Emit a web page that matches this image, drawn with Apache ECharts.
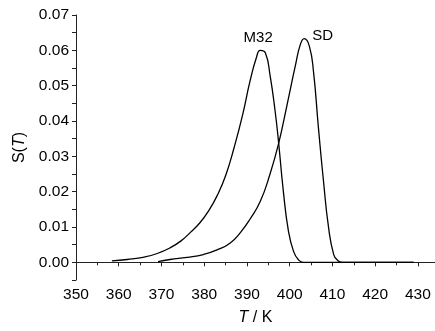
<!DOCTYPE html>
<html>
<head>
<meta charset="utf-8">
<script src="https://cdn.jsdelivr.net/npm/echarts@6/dist/echarts.min.js"></script>
<style>html,body{margin:0;padding:0;background:#fff}#c{width:435px;height:331px}</style>
</head>
<body>
<div id="c"></div>
<script>
const xTicks = [350, 360, 370, 380, 390, 400, 410, 420, 430];
const yTicks = ['0.00','0.01','0.02','0.03','0.04','0.05','0.06','0.07'];

const m32T = [358.4, 362, 366, 369, 372, 374.5, 376.7, 379, 381, 383, 385, 387, 389, 390.7, 392.2, 393.1, 394.3, 395.4, 396.6, 397.4, 398.5, 399.7, 400.9, 402, 403.2, 429];
const m32S = [0.0004, 0.0008, 0.0015, 0.0025, 0.0041, 0.0060, 0.0084, 0.0112, 0.0145, 0.0188, 0.0245, 0.0325, 0.0418, 0.0512, 0.0579, 0.0600, 0.0593, 0.0530, 0.0427, 0.0340, 0.0203, 0.0089, 0.0031, 0.0008, 0.0000, 0.0000];

const sdT = [369.2, 372, 376, 379.8, 383, 386.1, 388.5, 390.7, 393.1, 395.4, 397.4, 399.3, 401.3, 402.5, 403.4, 404.6, 405.6, 406.7, 407.9, 409.1, 410.3, 411.2, 412.2, 429];
const sdS = [0.0002, 0.0008, 0.0014, 0.0022, 0.0035, 0.0055, 0.0085, 0.0122, 0.0172, 0.0250, 0.0336, 0.0441, 0.0555, 0.0617, 0.0633, 0.0612, 0.0536, 0.0384, 0.0231, 0.0098, 0.0022, 0.0006, 0.0000, 0.0000];

const m32Label = 'M32', sdLabel = 'SD';
const m32Peak = [393.1, 0.0600], sdPeak = [403.4, 0.0633];

function zip(a, b) { return a.map((v, i) => [v, b[i]]); }

const chart = echarts.init(document.getElementById('c'), null, {renderer: 'canvas'});
const font = 'Liberation Sans, Arial, sans-serif';
const axisColor = '#222';
chart.setOption({
  animation: false,
  backgroundColor: '#fff',
  grid: {left: 76, right: 0, top: 15, bottom: 47, containLabel: false},
  xAxis: {
    type: 'value', min: 350, max: 434, interval: 10,
    name: '{i|T} / K', nameLocation: 'middle', nameGap: 30,
    nameTextStyle: {fontFamily: font, fontSize: 16, color: '#000', rich: {i: {fontStyle: 'italic', fontFamily: font, fontSize: 16, color: '#000'}}},
    axisLine: {lineStyle: {color: axisColor, width: 1}},
    axisTick: {show: true, length: 4, inside: false, lineStyle: {color: axisColor}},
    minorTick: {show: true, splitNumber: 2, length: 3, lineStyle: {color: axisColor}},
    splitLine: {show: false},
    axisLabel: {fontFamily: font, fontSize: 15.5, color: '#000', margin: 7, showMaxLabel: false,
      formatter: v => xTicks.includes(v) ? String(v) : ''}
  },
  yAxis: {
    type: 'value', min: -0.005, max: 0.07, interval: 0.005,
    name: 'S({i|T})', nameLocation: 'middle', nameGap: 44, nameRotate: 90,
    nameTextStyle: {fontFamily: font, fontSize: 16, color: '#000', rich: {i: {fontStyle: 'italic', fontFamily: font, fontSize: 16, color: '#000'}}},
    axisLine: {show: true, lineStyle: {color: axisColor, width: 1}},
    axisTick: {show: true, length: 4, inside: false, lineStyle: {color: axisColor}, interval: 0},
    splitLine: {show: false},
    axisLabel: {fontFamily: font, fontSize: 15.5, color: '#000', margin: 7,
      formatter: v => { const s = v.toFixed(2); return (Math.abs(v*100 - Math.round(v*100)) < 1e-6 && yTicks.includes(s)) ? s : ''; }}
  },
  series: [
    {
      type: 'line', data: zip(m32T, m32S), showSymbol: false, smooth: 0.5,
      lineStyle: {color: '#000', width: 1.3}, silent: true,
      markPoint: {symbol: 'circle', symbolSize: 0, data: [{coord: m32Peak, value: m32Label}],
        label: {show: true, formatter: m32Label, position: 'top', distance: 5, color: '#000', fontFamily: font, fontSize: 15, offset: [-2, 0]}}
    },
    {
      type: 'line', data: zip(sdT, sdS), showSymbol: false, smooth: 0.5,
      lineStyle: {color: '#000', width: 1.3}, silent: true,
      markPoint: {symbol: 'circle', symbolSize: 0, data: [{coord: sdPeak, value: sdLabel}],
        label: {show: true, formatter: sdLabel, position: 'right', distance: 8, color: '#000', fontFamily: font, fontSize: 15, offset: [0, -3]}}
    }
  ]
});
</script>
</body>
</html>
